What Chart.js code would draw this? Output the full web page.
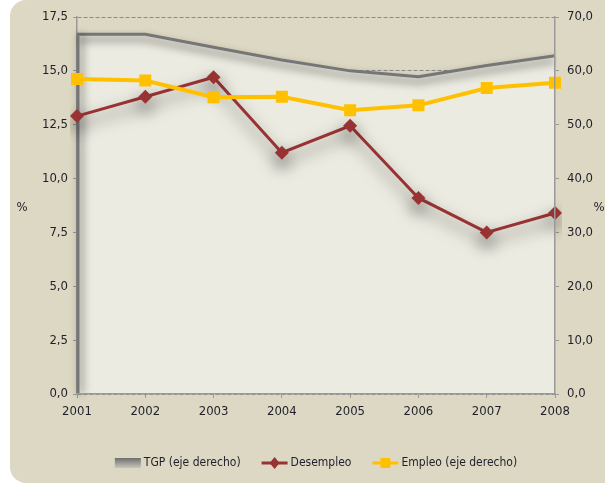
<!DOCTYPE html>
<html>
<head>
<meta charset="utf-8">
<script src="https://cdn.jsdelivr.net/npm/chart.js"></script>
<style>
  html, body { margin: 0; padding: 0; background: #fff; }
  #wrap { position: relative; width: 605px; height: 485px; overflow: hidden; }
  #panel { position: absolute; left: 10px; top: 0; width: 640px; height: 483px; background: #ddd8c3; border-radius: 16px; }
  #chart { position: absolute; left: 0; top: 0; }
</style>
</head>
<body>
<div id="wrap">
  <div id="panel"></div>
  <canvas id="chart" width="605" height="485"></canvas>
</div>
<script>
// Data
const years = ['2001', '2002', '2003', '2004', '2005', '2006', '2007', '2008'];
const tgp = [66.8, 66.8, 64.4, 62.0, 60.0, 58.9, 61.0, 62.8];       // right axis
const desempleo = [12.9, 13.8, 14.7, 11.2, 12.45, 9.1, 7.5, 8.4];   // left axis
const empleo = [58.5, 58.2, 55.1, 55.2, 52.7, 53.6, 56.8, 57.8];    // right axis
const legendLabels = ['TGP (eje derecho)', 'Desempleo', 'Empleo (eje derecho)'];
const leftMax = 17.5, leftStep = 2.5;
const rightMax = 70, rightStep = 10;

const FONT = "'Liberation Sans Narrow', 'DejaVu Sans Condensed', sans-serif";
const TEXT = '#1f1f2a';
const RED = '#993333';
const YELLOW = '#ffc000';
const GRAY = '#767676';

const fmt = v => Number(v).toFixed(1).replace('.', ',');

// shadows for line datasets (fill is drawn before by the filler plugin)
const shadowPlugin = {
  id: 'shadows',
  beforeDatasetDraw(chart, args) {
    const s = chart.data.datasets[args.index].shadow;
    if (!s) return;
    const ctx = chart.ctx;
    ctx.save();
    ctx.shadowColor = s.color;
    ctx.shadowBlur = s.blur;
    ctx.shadowOffsetX = s.x;
    ctx.shadowOffsetY = s.y;
  },
  afterDatasetDraw(chart, args) {
    if (!chart.data.datasets[args.index].shadow) return;
    const ctx = chart.ctx;
    if (args.index === 0) {
      // left edge of the TGP area
      const p = chart.getDatasetMeta(0).data[0];
      const a = chart.chartArea;
      ctx.shadowOffsetX = 3;
      ctx.shadowOffsetY = 0;
      ctx.strokeStyle = GRAY;
      ctx.lineWidth = 3;
      ctx.beginPath();
      ctx.moveTo(a.left + 1, p.y);
      ctx.lineTo(a.left + 1, a.bottom);
      ctx.stroke();
    }
    ctx.restore();
  }
};

// legend + "%" titles
const extrasPlugin = {
  id: 'extras',
  afterDraw(chart) {
    const ctx = chart.ctx;
    ctx.save();
    ctx.font = '13px ' + FONT;
    ctx.fillStyle = TEXT;
    ctx.textBaseline = 'middle';
    ctx.textAlign = 'center';
    ctx.fillText('%', 22, 208);
    ctx.fillText('%', 599, 208);

    ctx.font = '12px ' + FONT;
    const sw = 26, gap = 3, itemGap = 21, y = 463;
    const widths = legendLabels.map(t => ctx.measureText(t).width);
    const total = widths.reduce((a, w) => a + sw + gap + w, 0) + itemGap * 2;
    let x = 316 - total / 2;
    ctx.textAlign = 'left';
    legendLabels.forEach((t, i) => {
      if (i === 0) {
        const g = ctx.createLinearGradient(0, y - 5, 0, y + 5);
        g.addColorStop(0, '#6e6e6e');
        g.addColorStop(1, '#c8c6bb');
        ctx.fillStyle = g;
        ctx.fillRect(x, y - 5, sw, 10);
      } else {
        const c = i === 1 ? RED : YELLOW;
        ctx.strokeStyle = c;
        ctx.lineWidth = 3;
        ctx.beginPath();
        ctx.moveTo(x, y);
        ctx.lineTo(x + sw, y);
        ctx.stroke();
        ctx.fillStyle = c;
        const cx = x + sw / 2;
        ctx.beginPath();
        if (i === 1) {
          ctx.moveTo(cx, y - 6); ctx.lineTo(cx + 5, y); ctx.lineTo(cx, y + 6); ctx.lineTo(cx - 5, y);
        } else {
          ctx.rect(cx - 5, y - 5, 10, 10);
        }
        ctx.fill();
      }
      ctx.fillStyle = TEXT;
      ctx.fillText(t, x + sw + gap, y);
      x += sw + gap + widths[i] + itemGap;
    });
    ctx.restore();
  }
};

new Chart(document.getElementById('chart'), {
  type: 'line',
  data: {
    labels: years,
    datasets: [
      {
        label: legendLabels[0],
        data: tgp,
        yAxisID: 'y2',
        borderColor: GRAY,
        borderWidth: 3,
        backgroundColor: '#ecebe1',
        fill: 'origin',
        pointRadius: 0,
        tension: 0,
        order: 3,
        shadow: { color: 'rgba(0,0,0,0.6)', blur: 9, x: 0, y: 5 }
      },
      {
        label: legendLabels[1],
        data: desempleo,
        yAxisID: 'y',
        borderColor: RED,
        backgroundColor: RED,
        borderWidth: 3,
        pointStyle: 'rectRot',
        pointRadius: 7,
        pointBorderWidth: 0,
        tension: 0,
        order: 2,
        shadow: { color: 'rgba(0,0,0,0.6)', blur: 16, x: 0, y: 8 }
      },
      {
        label: legendLabels[2],
        data: empleo,
        yAxisID: 'y2',
        borderColor: YELLOW,
        backgroundColor: YELLOW,
        borderWidth: 4,
        pointStyle: 'rect',
        pointRadius: 8.5,
        pointBorderWidth: 0,
        tension: 0,
        order: 1
      }
    ]
  },
  options: {
    responsive: false,
    animation: false,
    layout: { padding: { top: 17, left: 0, right: 0, bottom: 61 } },
    plugins: {
      legend: { display: false },
      tooltip: { enabled: false }
    },
    scales: {
      x: {
        offset: false,
        grid: { display: true, drawOnChartArea: false, tickLength: 4, color: '#9a9a9a', offset: false },
        border: { display: true, color: '#9a9a9a', width: 1.5, z: 1 },
        ticks: { color: TEXT, font: { family: FONT, size: 13 }, padding: 6, maxRotation: 0 },
        afterFit: s => { s.height = 30; }
      },
      y: {
        position: 'left',
        min: 0,
        max: leftMax,
        ticks: { stepSize: leftStep, color: TEXT, font: { family: FONT, size: 13 }, padding: 5, callback: fmt },
        grid: { color: '#8a8a8a', lineWidth: 1, tickLength: 4, tickColor: '#9a9a9a' },
        border: { display: true, color: '#9a9a9a', width: 1.5, dash: [4, 2] },
        afterFit: s => { s.width = 77; }
      },
      y2: {
        position: 'right',
        min: 0,
        max: rightMax,
        ticks: { stepSize: rightStep, color: TEXT, font: { family: FONT, size: 13 }, padding: 8, callback: fmt },
        grid: { drawOnChartArea: false, tickLength: 4, color: '#9a9a9a' },
        border: { display: true, color: '#9a9a9a', width: 1.5, z: 1 },
        afterFit: s => { s.width = 50; }
      }
    }
  },
  plugins: [shadowPlugin, extrasPlugin]
});
</script>
</body>
</html>
